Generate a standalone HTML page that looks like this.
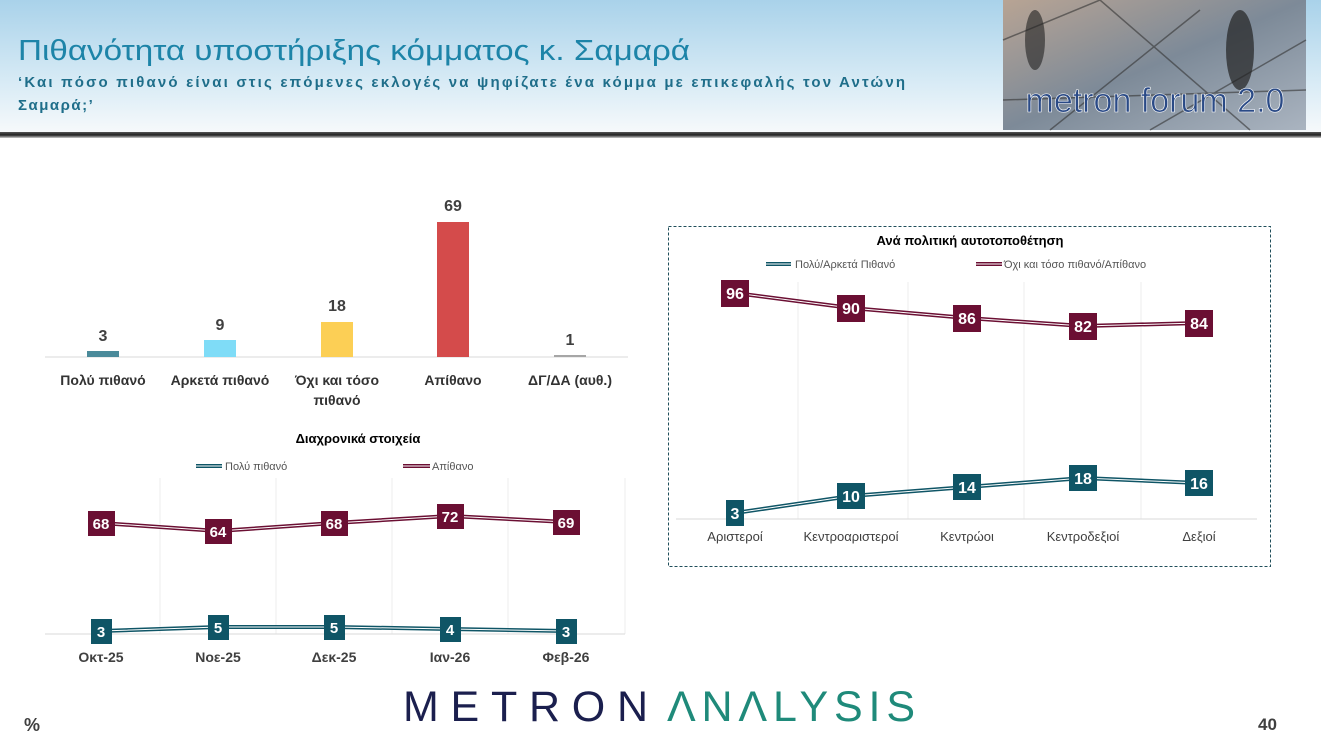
<!DOCTYPE html>
<html><head><meta charset="utf-8"><style>
html,body{margin:0;padding:0;background:#fff}
svg{display:block;font-family:"Liberation Sans","DejaVu Sans",sans-serif}
</style></head><body>
<svg width="1321" height="742" viewBox="0 0 1321 742" xmlns="http://www.w3.org/2000/svg">
<defs>
<linearGradient id="hdr" x1="0" y1="0" x2="0" y2="1">
<stop offset="0" stop-color="#a9d2ea"/><stop offset="0.6" stop-color="#d6eaf5"/><stop offset="1" stop-color="#f6f9fb"/>
</linearGradient>
<linearGradient id="shd" x1="0" y1="0" x2="0" y2="1">
<stop offset="0" stop-color="#555"/><stop offset="0.5" stop-color="#222"/><stop offset="1" stop-color="#ccc"/>
</linearGradient>
<linearGradient id="img" x1="0" y1="0" x2="1" y2="1">
<stop offset="0" stop-color="#b8a494"/><stop offset="0.5" stop-color="#7d8a98"/><stop offset="1" stop-color="#aab4c0"/>
</linearGradient>
</defs>
<rect x="0" y="0" width="1321" height="132" fill="url(#hdr)"/>
<rect x="0" y="132" width="1321" height="6" fill="url(#shd)"/>
<rect x="1003" y="0" width="303" height="130" fill="url(#img)"/>
<path d="M1003 40 L1100 0 M1050 130 L1200 10 M1150 130 L1306 40 M1003 100 L1306 90 M1100 0 L1250 130" stroke="#333" stroke-width="1.5" fill="none" opacity="0.6"/>
<ellipse cx="1240" cy="50" rx="14" ry="40" fill="#222" opacity="0.7"/>
<ellipse cx="1035" cy="40" rx="10" ry="30" fill="#222" opacity="0.6"/>
<text x="1155" y="112" font-size="34" fill="#2a4a86" text-anchor="middle" stroke="#fff" stroke-width="0.6">metron forum 2.0</text>
<text x="18" y="60" font-size="29" fill="#1d84a8" textLength="672" lengthAdjust="spacingAndGlyphs">Πιθανότητα υποστήριξης κόμματος κ. Σαμαρά</text>
<text x="18" y="87" font-size="15" fill="#1f6e8a" font-weight="bold" textLength="887" lengthAdjust="spacing">‘Και πόσο πιθανό είναι στις επόμενες εκλογές να ψηφίζατε ένα κόμμα με επικεφαλής τον Αντώνη</text>
<text x="18" y="110" font-size="15" fill="#1f6e8a" font-weight="bold" letter-spacing="1.5">Σαμαρά;’</text>

<!-- Bar chart -->
<line x1="45" y1="357" x2="628" y2="357" stroke="#d9d9d9"/>
<rect x="87" y="351" width="32" height="6" fill="#4a8a9a"/>
<rect x="204" y="340" width="32" height="17" fill="#7fdcf7"/>
<rect x="321" y="322" width="32" height="35" fill="#fccf55"/>
<rect x="437" y="222" width="32" height="135" fill="#d44b4b"/>
<rect x="554" y="355" width="32" height="2" fill="#a6a6a6"/>
<g font-size="16" font-weight="bold" fill="#404040" text-anchor="middle">
<text x="103" y="341">3</text><text x="220" y="330">9</text><text x="337" y="311">18</text><text x="453" y="211">69</text><text x="570" y="345">1</text>
</g>
<g font-size="14" font-weight="bold" fill="#333" text-anchor="middle">
<text x="103" y="385">Πολύ πιθανό</text><text x="220" y="385">Αρκετά πιθανό</text><text x="337" y="385">Όχι και τόσο</text><text x="337" y="405">πιθανό</text><text x="453" y="385">Απίθανο</text><text x="570" y="385">ΔΓ/ΔΑ (αυθ.)</text>
</g>

<!-- Line chart bottom -->
<text x="358" y="443" font-size="13" font-weight="bold" fill="#000" text-anchor="middle">Διαχρονικά στοιχεία</text>
<g font-size="11" fill="#555">
<line x1="196" y1="466" x2="222" y2="466" stroke="#0f5566" stroke-width="4"/><line x1="196" y1="466" x2="222" y2="466" stroke="#fff" stroke-width="1"/>
<text x="225" y="470">Πολύ πιθανό</text>
<line x1="403" y1="466" x2="430" y2="466" stroke="#6b0f33" stroke-width="4"/><line x1="403" y1="466" x2="430" y2="466" stroke="#fff" stroke-width="1"/>
<text x="432" y="470">Απίθανο</text>
</g>
<g stroke="#eeeeee"><line x1="160" y1="478" x2="160" y2="634"/><line x1="276" y1="478" x2="276" y2="634"/><line x1="392" y1="478" x2="392" y2="634"/><line x1="508" y1="478" x2="508" y2="634"/><line x1="625" y1="478" x2="625" y2="634"/></g>
<line x1="45" y1="634" x2="625" y2="634" stroke="#d9d9d9"/>
<polyline points="101,523 218,531 334,523 450,516 566,522" fill="none" stroke="#6b0f33" stroke-width="4"/>
<polyline points="101,523 218,531 334,523 450,516 566,522" fill="none" stroke="#fff" stroke-width="1"/>
<polyline points="101,631 218,627 334,627 450,629 566,631" fill="none" stroke="#0f5566" stroke-width="4"/>
<polyline points="101,631 218,627 334,627 450,629 566,631" fill="none" stroke="#fff" stroke-width="1"/>
<g fill="#6b0f33"><rect x="88" y="511" width="27" height="25"/><rect x="205" y="519" width="27" height="25"/><rect x="321" y="511" width="27" height="25"/><rect x="437" y="504" width="27" height="25"/><rect x="553" y="510" width="27" height="25"/></g>
<g fill="#0f5566"><rect x="91" y="619" width="21" height="25"/><rect x="208" y="615" width="21" height="25"/><rect x="324" y="615" width="21" height="25"/><rect x="440" y="617" width="21" height="25"/><rect x="556" y="619" width="21" height="25"/></g>
<g font-size="15" font-weight="bold" fill="#fff" text-anchor="middle">
<text x="101" y="529">68</text><text x="218" y="537">64</text><text x="334" y="529">68</text><text x="450" y="522">72</text><text x="566" y="528">69</text>
<text x="101" y="637">3</text><text x="218" y="633">5</text><text x="334" y="633">5</text><text x="450" y="635">4</text><text x="566" y="637">3</text>
</g>
<g font-size="14" font-weight="bold" fill="#404040" text-anchor="middle">
<text x="101" y="662">Οκτ-25</text><text x="218" y="662">Νοε-25</text><text x="334" y="662">Δεκ-25</text><text x="450" y="662">Ιαν-26</text><text x="566" y="662">Φεβ-26</text>
</g>

<!-- Right chart -->
<rect x="668.5" y="226.5" width="602" height="340" fill="none" stroke="#1f4e5a" stroke-dasharray="3,2"/>
<text x="970" y="245" font-size="13" font-weight="bold" fill="#000" text-anchor="middle">Ανά πολιτική αυτοτοποθέτηση</text>
<g font-size="11" fill="#555">
<line x1="766" y1="264" x2="791" y2="264" stroke="#0f5566" stroke-width="4"/><line x1="766" y1="264" x2="791" y2="264" stroke="#fff" stroke-width="1"/>
<text x="795" y="268">Πολύ/Αρκετά Πιθανό</text>
<line x1="976" y1="264" x2="1002" y2="264" stroke="#6b0f33" stroke-width="4"/><line x1="976" y1="264" x2="1002" y2="264" stroke="#fff" stroke-width="1"/>
<text x="1004" y="268">Όχι και τόσο πιθανό/Απίθανο</text>
</g>
<g stroke="#eeeeee"><line x1="798" y1="282" x2="798" y2="519"/><line x1="908" y1="282" x2="908" y2="519"/><line x1="1024" y1="282" x2="1024" y2="519"/><line x1="1141" y1="282" x2="1141" y2="519"/></g>
<line x1="676" y1="519" x2="1257" y2="519" stroke="#d9d9d9"/>
<polyline points="735,293 851,308 967,318 1083,326 1199,323" fill="none" stroke="#6b0f33" stroke-width="4"/>
<polyline points="735,293 851,308 967,318 1083,326 1199,323" fill="none" stroke="#fff" stroke-width="1"/>
<polyline points="735,513 851,496 967,487 1083,478 1199,483" fill="none" stroke="#0f5566" stroke-width="4"/>
<polyline points="735,513 851,496 967,487 1083,478 1199,483" fill="none" stroke="#fff" stroke-width="1"/>
<g fill="#6b0f33"><rect x="721" y="280" width="28" height="27"/><rect x="837" y="295" width="28" height="27"/><rect x="953" y="305" width="28" height="27"/><rect x="1069" y="313" width="28" height="27"/><rect x="1185" y="310" width="28" height="27"/></g>
<g fill="#0f5566"><rect x="726" y="500" width="18" height="26"/><rect x="837" y="483" width="28" height="26"/><rect x="953" y="474" width="28" height="26"/><rect x="1069" y="465" width="28" height="26"/><rect x="1185" y="470" width="28" height="26"/></g>
<g font-size="16" font-weight="bold" fill="#fff" text-anchor="middle">
<text x="735" y="299">96</text><text x="851" y="314">90</text><text x="967" y="324">86</text><text x="1083" y="332">82</text><text x="1199" y="329">84</text>
<text x="735" y="519">3</text><text x="851" y="502">10</text><text x="967" y="493">14</text><text x="1083" y="484">18</text><text x="1199" y="489">16</text>
</g>
<g font-size="13" fill="#404040" text-anchor="middle">
<text x="735" y="541">Αριστεροί</text><text x="851" y="541">Κεντροαριστεροί</text><text x="967" y="541">Κεντρώοι</text><text x="1083" y="541">Κεντροδεξιοί</text><text x="1199" y="541">Δεξιοί</text>
</g>

<!-- footer -->
<text x="403" y="721" font-size="43" fill="#1b1f4e" textLength="245" lengthAdjust="spacing">METRON</text>
<text x="667" y="721" font-size="43" fill="#1f8a7a" textLength="248" lengthAdjust="spacing">ΛNΛLYSIS</text>
<text x="24" y="731" font-size="18" font-weight="bold" fill="#404040">%</text>
<text x="1258" y="730" font-size="17" font-weight="bold" fill="#404040">40</text>
</svg>
</body></html>
